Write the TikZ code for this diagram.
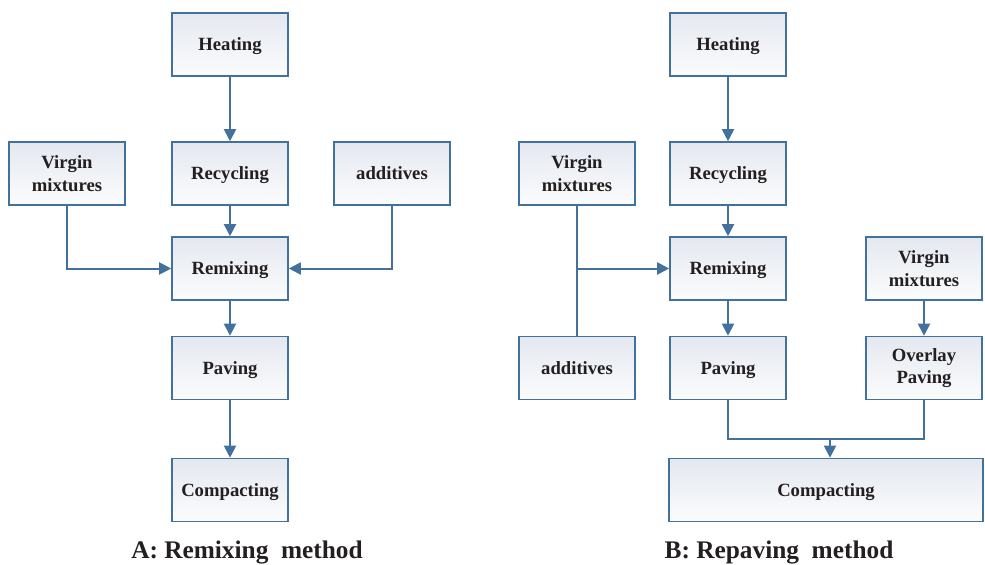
\documentclass[tikz,border=0pt]{standalone}
\usepackage{fontspec}
\setmainfont{Liberation Serif}
\usetikzlibrary{arrows.meta}
\definecolor{edge}{HTML}{41719C}
\definecolor{boxtop}{HTML}{E4E8EF}
\definecolor{boxbot}{HTML}{FBFCFD}
\definecolor{ink}{HTML}{231F20}

\begin{document}
\begin{tikzpicture}[x=0.75pt,y=-0.75pt,>={Triangle[length=9pt,width=9pt]}]
  \tikzstyle{stage}=[draw=edge,line width=1.2pt,top color=boxtop,bottom color=boxbot,minimum width=87pt,minimum height=47.25pt,align=center,text=ink,inner sep=2pt,font=\fontsize{14}{17}\selectfont\bfseries]
  \tikzstyle{oneline}=[stage,text height=11.3pt,text depth=2pt]
  \tikzstyle{flow}=[draw=edge,line width=1.5pt]
  \tikzstyle{caption}=[text=ink,anchor=base,font=\fontsize{19}{22}\selectfont\bfseries]
  \useasboundingbox (0,0) rectangle (985,564);
  % A: remixing
  \node[oneline] (heatA) at (230,44.5) {Heating};
  \node[oneline] (recA) at (230,173.5) {Recycling};
  \node[stage] (virA) at (67,173.5) {Virgin\\mixtures};
  \node[oneline] (addA) at (392,173.5) {additives};
  \node[oneline] (remA) at (230,268.5) {Remixing};
  \node[oneline] (pavA) at (230,368) {Paving};
  \node[oneline] (compA) at (230,490) {Compacting};
  \draw[flow,->] (heatA) -- (recA);
  \draw[flow,->] (recA) -- (remA);
  \draw[flow,->] (virA) |- (remA);
  \draw[flow,->] (addA) |- (remA);
  \draw[flow,->] (remA) -- (pavA);
  \draw[flow,->] (pavA) -- (compA);
  \node[caption] (capA) at (247,558) {A: Remixing\ \ method};
  % B: repaving
  \node[oneline] (heatB) at (728,44.5) {Heating};
  \node[oneline] (recB) at (728,173.5) {Recycling};
  \node[stage] (virB) at (577,173.5) {Virgin\\mixtures};
  \node[oneline] (remB) at (728,268.5) {Remixing};
  \node[oneline] (addB) at (577,368) {additives};
  \node[oneline] (pavB) at (728,368) {Paving};
  \node[stage] (vir2B) at (924,268.5) {Virgin\\mixtures};
  \node[stage] (ovB) at (924,368) {Overlay\\Paving};
  \node[oneline,minimum width=235.5pt] (compB) at (826,490) {Compacting};
  \coordinate (mrg) at (830,439);
  \draw[flow,->] (heatB) -- (recB);
  \draw[flow,->] (recB) -- (remB);
  \draw[flow] (virB) -- (addB);
  \draw[flow,->] (virB.south |- remB) -- (remB);
  \draw[flow,->] (remB) -- (pavB);
  \draw[flow,->] (vir2B) -- (ovB);
  \draw[flow] (pavB.south) |- (mrg) -| (ovB.south);
  \draw[flow,->] (mrg) -- (mrg |- compB.north);
  \node[caption] (capB) at (779,558) {B: Repaving\ \ method};
\end{tikzpicture}
\end{document}
